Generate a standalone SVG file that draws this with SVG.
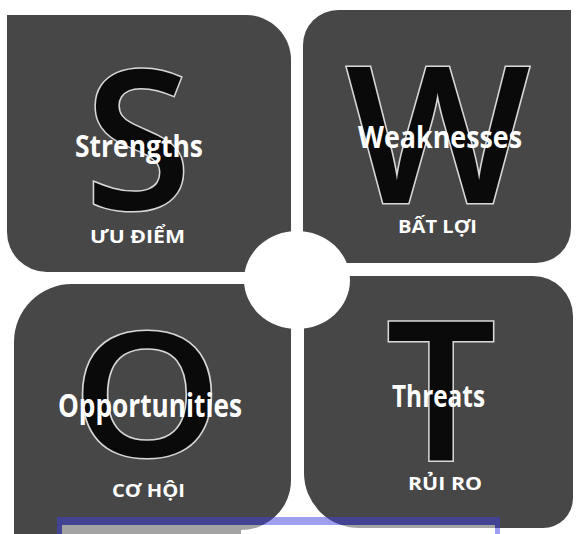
<svg xmlns="http://www.w3.org/2000/svg" width="576" height="534" viewBox="0 0 576 534">
<style>
.tile{fill:#474747}
.big{font-family:"Open Sans","DejaVu Sans",sans-serif;font-weight:600;fill:#0a0a0a;stroke:#d8d8d8;stroke-width:3;paint-order:stroke;text-anchor:middle}
.lbl{font-family:"Open Sans","DejaVu Sans",sans-serif;font-weight:700;fill:#ffffff;text-anchor:middle}
.sub{font-family:"Open Sans","DejaVu Sans",sans-serif;font-weight:700;fill:#ffffff;text-anchor:middle;font-size:17px}
</style>
<rect width="576" height="534" fill="#ffffff"/>
<g id="strengths">
<path class="tile" d="M7 15 H246 A45 45 0 0 1 291 60 V272 H47 A40 40 0 0 1 7 232 Z"/>
<text class="big" x="138" y="209" font-size="194">S</text>
<text class="lbl" x="139" y="157" font-size="30" textLength="128" lengthAdjust="spacingAndGlyphs">Strengths</text>
<text class="sub" x="137.5" y="243" textLength="95" lengthAdjust="spacingAndGlyphs">ƯU ĐIỂM</text>
</g>
<g id="weaknesses">
<path class="tile" d="M338 10 H571 V228 A35 35 0 0 1 536 263 H303 V45 A35 35 0 0 1 338 10 Z"/>
<text class="big" x="438" y="203" font-size="190" textLength="185" lengthAdjust="spacingAndGlyphs">W</text>
<text class="lbl" x="440" y="148" font-size="30" textLength="164" lengthAdjust="spacingAndGlyphs">Weaknesses</text>
<text class="sub" x="437.5" y="233" textLength="79" lengthAdjust="spacingAndGlyphs">BẤT LỢI</text>
</g>
<g id="opportunities">
<path class="tile" d="M72 284 H291 V480 A50 50 0 0 1 241 530 V540 H14 V342 A58 58 0 0 1 72 284 Z"/>
<text class="big" x="147" y="456" font-size="172" textLength="150" lengthAdjust="spacingAndGlyphs">O</text>
<text class="lbl" x="150" y="417" font-size="32" textLength="184" lengthAdjust="spacingAndGlyphs">Opportunities</text>
<text class="sub" x="148.5" y="497" textLength="73" lengthAdjust="spacingAndGlyphs">CƠ HỘI</text>
</g>
<g id="threats">
<path class="tile" d="M304 276 H533 A40 40 0 0 1 573 316 V498 A30 30 0 0 1 543 528 H359 A55 55 0 0 1 304 473 Z"/>
<text class="big" x="441" y="460" font-size="194">T</text>
<text class="lbl" x="438.5" y="407" font-size="30" textLength="93" lengthAdjust="spacingAndGlyphs">Threats</text>
<text class="sub" x="445" y="490" textLength="74" lengthAdjust="spacingAndGlyphs">RỦI RO</text>
</g>
<g id="center">
<ellipse cx="297" cy="280" rx="53" ry="49" fill="#ffffff"/>
</g>
<g id="connectors"></g>
<g id="selection">
<rect x="62" y="525" width="433" height="9" fill="#ffffff" fill-opacity="0.5"/>
<rect x="57" y="517" width="443" height="8" fill="#4040e0" fill-opacity="0.5"/>
<rect x="57" y="525" width="5" height="9" fill="#4040e0" fill-opacity="0.5"/>
<rect x="495" y="525" width="5" height="9" fill="#4040e0" fill-opacity="0.5"/>
</g>
</svg>
